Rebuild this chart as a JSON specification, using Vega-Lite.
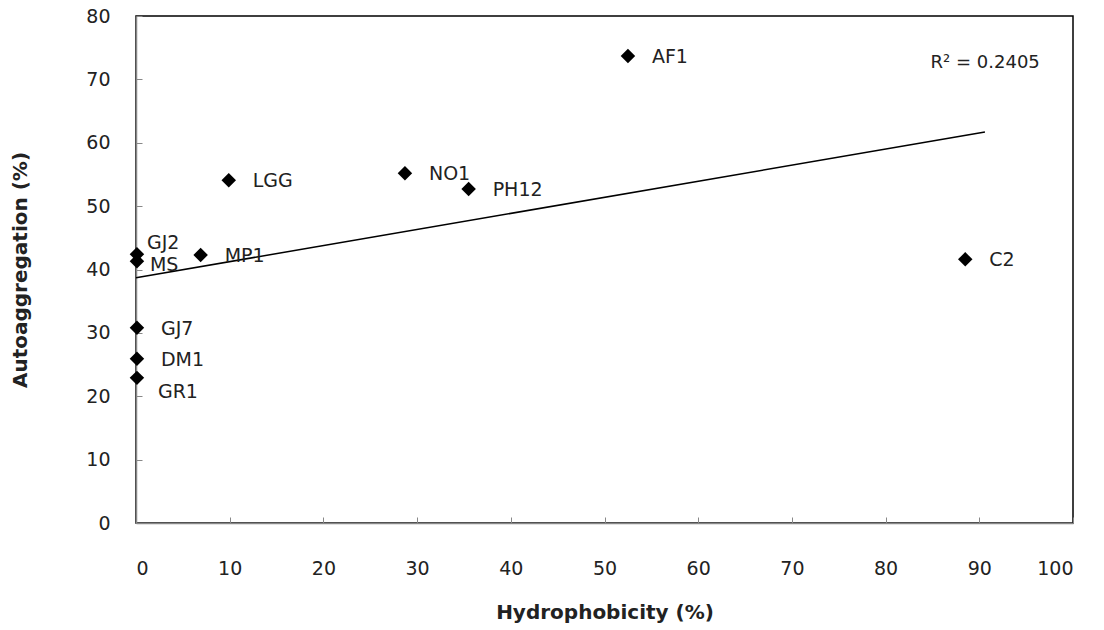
{
  "$schema": "https://vega.github.io/schema/vega-lite/v6.json",
  "autosize": {"type": "none"},
  "padding": {"left": 136, "top": 16, "right": 31, "bottom": 107},
  "width": 937,
  "height": 507,
  "background": "white",
  "config": {
    "view": {"stroke": "#000", "strokeWidth": 1.5},
    "axis": {
      "grid": false,
      "domainColor": "#888",
      "domainWidth": 1.5,
      "tickColor": "#888",
      "tickSize": -6,
      "labelFont": "DejaVu Sans",
      "labelFontSize": 19,
      "labelColor": "#222",
      "titleFont": "DejaVu Sans",
      "titleFontSize": 20,
      "titleFontWeight": "bold",
      "titleColor": "#222"
    }
  },
  "datasets": {
    "pts": [
      {"strain": "AF1", "hydro": 52.5, "auto": 73.7, "grp": "a"},
      {"strain": "NO1", "hydro": 28.7, "auto": 55.2, "grp": "a"},
      {"strain": "PH12", "hydro": 35.5, "auto": 52.7, "grp": "a"},
      {"strain": "LGG", "hydro": 9.9, "auto": 54.1, "grp": "a"},
      {"strain": "MP1", "hydro": 6.9, "auto": 42.3, "grp": "a"},
      {"strain": "C2", "hydro": 88.5, "auto": 41.6, "grp": "a"},
      {"strain": "GJ2", "hydro": 0.1, "auto": 42.4, "grp": "b"},
      {"strain": "MS", "hydro": 0.1, "auto": 41.3, "grp": "c"},
      {"strain": "GJ7", "hydro": 0.1, "auto": 30.8, "grp": "a"},
      {"strain": "DM1", "hydro": 0.1, "auto": 25.9, "grp": "a"},
      {"strain": "GR1", "hydro": 0.1, "auto": 22.9, "grp": "d"}
    ],
    "trend": [
      {"hydro": 0, "auto": 38.7},
      {"hydro": 90.6, "auto": 61.7}
    ],
    "r2": [
      {"hydro": 84.8, "auto": 72.6, "label": "R² = 0.2405"}
    ]
  },
  "layer": [
    {
      "data": {"name": "trend"},
      "mark": {"type": "line", "color": "#000", "strokeWidth": 1.5},
      "encoding": {
        "x": {"field": "hydro", "type": "quantitative", "scale": {"domain": [0, 100], "nice": false}, "axis": {"title": "Hydrophobicity (%)", "values": [0,10,20,30,40,50,60,70,80,90,100], "labelPadding": 42, "titlePadding": 24}},
        "y": {"field": "auto", "type": "quantitative", "scale": {"domain": [0, 80], "nice": false}, "axis": {"title": "Autoaggregation (%)", "values": [0,10,20,30,40,50,60,70,80], "labelPadding": 32, "titlePadding": 55}}
      }
    },
    {
      "data": {"name": "pts"},
      "mark": {"type": "point", "shape": "diamond", "filled": true, "color": "#000", "opacity": 1, "size": 210},
      "encoding": {
        "x": {"field": "hydro", "type": "quantitative"},
        "y": {"field": "auto", "type": "quantitative"}
      }
    },
    {
      "data": {"name": "pts"},
      "transform": [{"filter": "datum.grp === 'a'"}],
      "mark": {"type": "text", "align": "left", "baseline": "middle", "dx": 24, "dy": 1, "font": "DejaVu Sans", "fontSize": 19, "color": "#222"},
      "encoding": {
        "x": {"field": "hydro", "type": "quantitative"},
        "y": {"field": "auto", "type": "quantitative"},
        "text": {"field": "strain"}
      }
    },
    {
      "data": {"name": "pts"},
      "transform": [{"filter": "datum.grp === 'b'"}],
      "mark": {"type": "text", "align": "left", "baseline": "middle", "dx": 10, "dy": -11, "font": "DejaVu Sans", "fontSize": 19, "color": "#222"},
      "encoding": {
        "x": {"field": "hydro", "type": "quantitative"},
        "y": {"field": "auto", "type": "quantitative"},
        "text": {"field": "strain"}
      }
    },
    {
      "data": {"name": "pts"},
      "transform": [{"filter": "datum.grp === 'c'"}],
      "mark": {"type": "text", "align": "left", "baseline": "middle", "dx": 13, "dy": 4, "font": "DejaVu Sans", "fontSize": 19, "color": "#222"},
      "encoding": {
        "x": {"field": "hydro", "type": "quantitative"},
        "y": {"field": "auto", "type": "quantitative"},
        "text": {"field": "strain"}
      }
    },
    {
      "data": {"name": "pts"},
      "transform": [{"filter": "datum.grp === 'd'"}],
      "mark": {"type": "text", "align": "left", "baseline": "middle", "dx": 21, "dy": 14, "font": "DejaVu Sans", "fontSize": 19, "color": "#222"},
      "encoding": {
        "x": {"field": "hydro", "type": "quantitative"},
        "y": {"field": "auto", "type": "quantitative"},
        "text": {"field": "strain"}
      }
    },
    {
      "data": {"name": "r2"},
      "mark": {"type": "text", "align": "left", "baseline": "middle", "font": "DejaVu Sans", "fontSize": 18, "color": "#222"},
      "encoding": {
        "x": {"field": "hydro", "type": "quantitative"},
        "y": {"field": "auto", "type": "quantitative"},
        "text": {"field": "label"}
      }
    }
  ]
}
